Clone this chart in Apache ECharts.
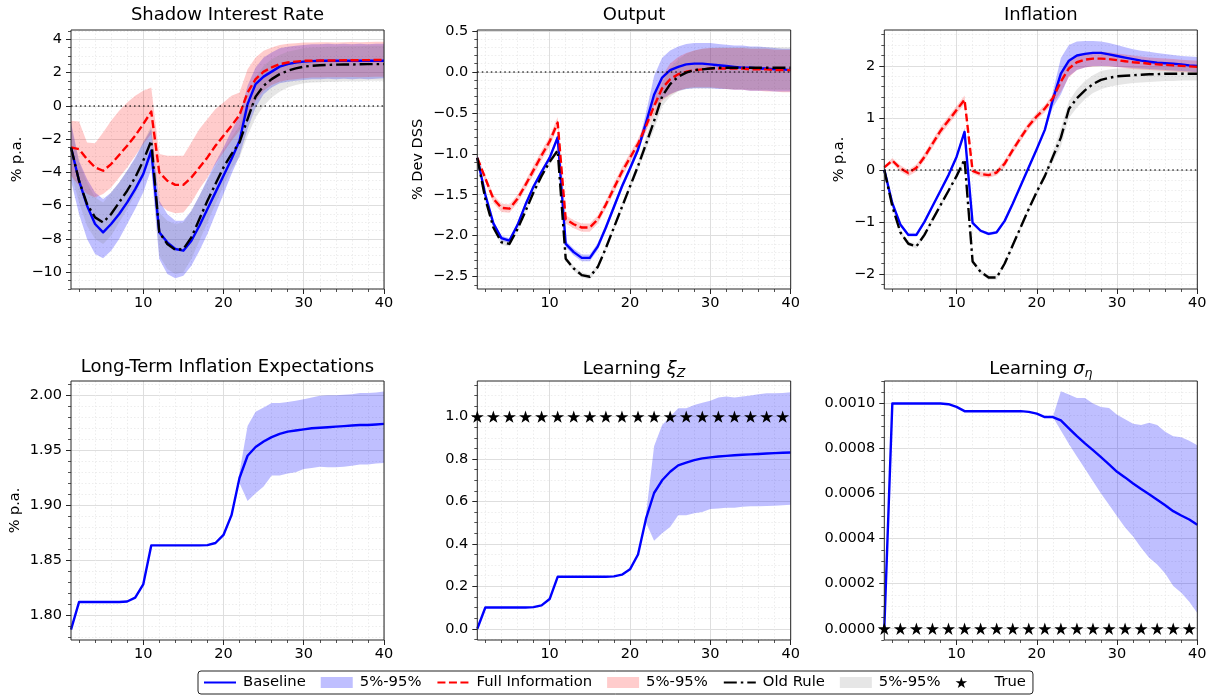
<!DOCTYPE html>
<html><head><meta charset="utf-8">
<script src="https://cdn.jsdelivr.net/npm/echarts@6/dist/echarts.min.js"></script>
<style>html,body{margin:0;padding:0;background:#fff}#c{width:1211px;height:698px}</style>
</head><body><div id="c"></div>
<script>
// ---------------- DATA ----------------
const periods = [1,2,3,4,5,6,7,8,9,10,11,12,13,14,15,16,17,18,19,20,21,22,23,24,25,26,27,28,29,30,31,32,33,34,35,36,37,38,39,40];
const xMajorTicks = [10,20,30,40];
const xMinorTicks = [2,4,6,8,12,14,16,18,22,24,26,28,32,34,36,38];

// Panel 1: Shadow Interest Rate
const rateBase = [-2.5,-4.5,-6.0,-7.1,-7.6,-7.1,-6.5,-5.8,-5.0,-4.1,-2.7,-7.6,-8.2,-8.6,-8.7,-8.1,-7.2,-6.2,-5.2,-4.2,-3.2,-2.1,0.1,1.3,1.75,2.05,2.35,2.5,2.6,2.65,2.68,2.7,2.7,2.7,2.7,2.7,2.7,2.7,2.7,2.7];
const rateBaseLo = [-4.5,-6.5,-8.0,-8.9,-9.15,-8.7,-8.0,-7.1,-6.2,-5.2,-3.8,-9.2,-10.1,-10.35,-10.2,-9.6,-8.7,-7.7,-6.5,-5.3,-4.1,-3.0,-1.4,-0.1,0.7,1.1,1.35,1.45,1.5,1.55,1.6,1.6,1.62,1.6,1.62,1.6,1.62,1.6,1.63,1.65];
const rateBaseHi = [-1.0,-3.3,-4.4,-5.2,-5.6,-5.2,-4.6,-3.9,-3.1,-2.2,-1.4,-5.7,-6.5,-6.9,-6.9,-6.3,-5.4,-4.4,-3.4,-2.5,-1.5,-0.6,1.2,2.3,2.9,3.2,3.45,3.55,3.6,3.65,3.7,3.7,3.72,3.7,3.72,3.7,3.72,3.7,3.72,3.72];
const rateFull = [-2.5,-2.6,-3.2,-3.7,-3.9,-3.5,-2.95,-2.4,-1.8,-1.1,-0.35,-4.0,-4.5,-4.75,-4.75,-4.3,-3.7,-3.1,-2.4,-1.8,-1.2,-0.55,0.8,1.6,2.05,2.3,2.5,2.6,2.65,2.7,2.7,2.72,2.72,2.72,2.73,2.73,2.74,2.74,2.75,2.75];
const rateFullLo = [-4.2,-4.8,-5.3,-5.5,-5.3,-4.9,-4.3,-3.7,-3.0,-2.3,-1.7,-5.9,-6.3,-6.45,-6.4,-5.8,-5.0,-4.3,-3.5,-2.8,-2.1,-1.5,-0.6,0.3,0.9,1.25,1.45,1.55,1.6,1.65,1.7,1.7,1.72,1.72,1.72,1.73,1.72,1.73,1.74,1.75];
const rateFullHi = [-0.9,-0.95,-2.2,-2.25,-1.6,-0.9,-0.3,0.2,0.6,0.9,1.1,-2.9,-3.0,-3.0,-3.0,-2.2,-1.4,-0.8,-0.2,0.2,0.6,0.8,2.2,2.9,3.3,3.5,3.65,3.72,3.75,3.8,3.8,3.82,3.82,3.8,3.82,3.83,3.82,3.83,3.85,3.85];
const rateOld = [-2.5,-4.5,-5.9,-6.7,-7.0,-6.5,-5.8,-5.1,-4.3,-3.3,-2.1,-7.6,-8.3,-8.65,-8.6,-7.9,-6.8,-5.7,-4.7,-3.7,-2.9,-2.2,-0.8,0.55,1.2,1.6,1.9,2.1,2.25,2.35,2.4,2.43,2.45,2.47,2.48,2.48,2.49,2.5,2.5,2.5];
const rateOldLo = [-4.0,-5.8,-7.2,-8.0,-8.3,-7.8,-7.0,-6.2,-5.3,-4.3,-3.0,-9.0,-9.8,-10.1,-10.0,-9.2,-8.1,-7.0,-5.9,-4.8,-3.8,-3.1,-1.8,-0.7,0.0,0.5,0.85,1.1,1.25,1.35,1.4,1.42,1.45,1.45,1.47,1.48,1.48,1.5,1.5,1.5];
const rateOldHi = [-1.2,-3.4,-4.6,-5.5,-5.8,-5.2,-4.6,-3.9,-3.2,-2.2,-1.2,-6.4,-6.9,-7.1,-7.0,-6.3,-5.4,-4.5,-3.6,-2.7,-1.9,-1.2,0.3,1.7,2.4,2.8,3.05,3.25,3.35,3.45,3.5,3.52,3.55,3.55,3.57,3.58,3.58,3.6,3.6,3.6];

// Panel 2: Output
const outBase = [-1.05,-1.5,-1.85,-2.03,-2.06,-1.87,-1.62,-1.4,-1.22,-1.05,-0.8,-2.1,-2.2,-2.27,-2.27,-2.13,-1.9,-1.65,-1.4,-1.18,-0.95,-0.62,-0.28,-0.07,0.02,0.06,0.09,0.1,0.1,0.09,0.08,0.07,0.06,0.05,0.05,0.04,0.04,0.03,0.03,0.02];
const outBaseLo = [-1.07,-1.53,-1.88,-2.06,-2.09,-1.9,-1.65,-1.43,-1.25,-1.08,-0.84,-2.14,-2.24,-2.31,-2.31,-2.17,-1.94,-1.69,-1.44,-1.22,-0.99,-0.7,-0.42,-0.33,-0.27,-0.23,-0.21,-0.2,-0.2,-0.2,-0.21,-0.21,-0.22,-0.22,-0.23,-0.23,-0.23,-0.24,-0.24,-0.24];
const outBaseHi = [-1.03,-1.47,-1.82,-2.0,-2.03,-1.84,-1.59,-1.37,-1.19,-1.02,-0.76,-2.06,-2.16,-2.23,-2.23,-2.09,-1.86,-1.61,-1.36,-1.14,-0.9,-0.5,-0.05,0.17,0.26,0.31,0.34,0.35,0.35,0.35,0.34,0.33,0.32,0.32,0.31,0.31,0.3,0.29,0.28,0.28];
const outFull = [-1.05,-1.3,-1.55,-1.66,-1.67,-1.55,-1.38,-1.2,-1.02,-0.85,-0.62,-1.8,-1.86,-1.9,-1.9,-1.8,-1.62,-1.42,-1.22,-1.05,-0.88,-0.66,-0.42,-0.2,-0.09,-0.03,0.0,0.02,0.03,0.04,0.04,0.04,0.04,0.04,0.03,0.03,0.03,0.02,0.02,0.02];
const outFullLo = [-1.08,-1.34,-1.6,-1.71,-1.72,-1.6,-1.43,-1.26,-1.08,-0.91,-0.68,-1.85,-1.91,-1.95,-1.95,-1.85,-1.67,-1.48,-1.28,-1.11,-0.94,-0.73,-0.52,-0.35,-0.28,-0.23,-0.2,-0.19,-0.19,-0.19,-0.2,-0.21,-0.22,-0.22,-0.23,-0.23,-0.24,-0.24,-0.25,-0.25];
const outFullHi = [-1.02,-1.26,-1.5,-1.61,-1.62,-1.5,-1.33,-1.14,-0.96,-0.79,-0.55,-1.75,-1.81,-1.85,-1.85,-1.75,-1.57,-1.36,-1.16,-0.99,-0.82,-0.59,-0.32,-0.05,0.1,0.18,0.23,0.26,0.28,0.29,0.29,0.29,0.29,0.29,0.28,0.28,0.28,0.27,0.27,0.27];
const outOld = [-1.05,-1.55,-1.9,-2.08,-2.1,-1.92,-1.7,-1.47,-1.27,-1.1,-0.96,-2.28,-2.4,-2.48,-2.5,-2.38,-2.15,-1.9,-1.65,-1.4,-1.15,-0.88,-0.6,-0.3,-0.15,-0.06,-0.01,0.02,0.03,0.04,0.05,0.05,0.05,0.05,0.05,0.05,0.05,0.05,0.05,0.05];
const outOldLo = [-1.08,-1.58,-1.93,-2.11,-2.13,-1.95,-1.73,-1.5,-1.3,-1.13,-0.99,-2.31,-2.43,-2.51,-2.53,-2.41,-2.18,-1.93,-1.68,-1.44,-1.2,-0.95,-0.7,-0.42,-0.3,-0.24,-0.21,-0.2,-0.2,-0.2,-0.2,-0.21,-0.21,-0.21,-0.22,-0.22,-0.22,-0.22,-0.22,-0.22];
const outOldHi = [-1.02,-1.52,-1.87,-2.05,-2.07,-1.89,-1.67,-1.44,-1.24,-1.07,-0.93,-2.25,-2.37,-2.45,-2.47,-2.35,-2.12,-1.87,-1.62,-1.36,-1.1,-0.8,-0.48,-0.15,0.05,0.15,0.22,0.26,0.28,0.29,0.3,0.3,0.3,0.3,0.3,0.3,0.3,0.3,0.3,0.3];

// Panel 3: Inflation
const inflBase = [0.0,-0.64,-1.05,-1.25,-1.25,-1.0,-0.7,-0.4,-0.1,0.25,0.73,-1.02,-1.17,-1.23,-1.2,-0.98,-0.65,-0.3,0.05,0.4,0.77,1.35,1.85,2.1,2.2,2.23,2.25,2.25,2.22,2.19,2.16,2.13,2.1,2.08,2.06,2.05,2.04,2.03,2.01,2.0];
const inflBaseLo = [-0.03,-0.67,-1.08,-1.28,-1.28,-1.03,-0.73,-0.43,-0.13,0.22,0.69,-1.05,-1.2,-1.26,-1.23,-1.01,-0.68,-0.33,0.02,0.37,0.73,1.2,1.45,1.8,1.92,1.97,2.0,2.0,2.0,1.98,1.97,1.96,1.95,1.94,1.93,1.92,1.91,1.9,1.89,1.88];
const inflBaseHi = [0.03,-0.61,-1.02,-1.22,-1.22,-0.97,-0.67,-0.37,-0.07,0.28,0.81,-0.99,-1.14,-1.2,-1.17,-0.95,-0.62,-0.27,0.08,0.43,0.81,1.5,2.15,2.4,2.47,2.48,2.48,2.47,2.44,2.4,2.36,2.32,2.29,2.27,2.25,2.23,2.21,2.19,2.18,2.17];
const inflFull = [0.05,0.18,0.03,-0.06,0.04,0.25,0.5,0.75,0.95,1.15,1.35,-0.02,-0.08,-0.1,-0.05,0.12,0.38,0.62,0.85,1.03,1.18,1.38,1.7,1.95,2.07,2.12,2.14,2.14,2.13,2.11,2.09,2.07,2.06,2.04,2.03,2.02,2.01,2.0,1.99,1.98];
const inflFullLo = [0.02,0.13,-0.03,-0.12,-0.03,0.18,0.42,0.67,0.87,1.07,1.27,-0.07,-0.13,-0.15,-0.11,0.05,0.31,0.55,0.78,0.96,1.11,1.28,1.5,1.78,1.92,1.97,1.99,2.0,1.99,1.98,1.96,1.94,1.93,1.92,1.91,1.9,1.89,1.88,1.88,1.87];
const inflFullHi = [0.08,0.23,0.09,0.0,0.11,0.32,0.58,0.83,1.03,1.23,1.43,0.03,-0.03,-0.05,0.01,0.19,0.45,0.69,0.92,1.1,1.25,1.45,1.82,2.1,2.2,2.25,2.27,2.27,2.26,2.24,2.22,2.2,2.18,2.16,2.15,2.14,2.13,2.12,2.11,2.1];
const inflOld = [0.0,-0.7,-1.2,-1.42,-1.47,-1.25,-0.96,-0.68,-0.4,-0.12,0.2,-1.76,-1.96,-2.07,-2.07,-1.8,-1.45,-1.1,-0.75,-0.42,-0.12,0.25,0.62,1.17,1.38,1.53,1.65,1.73,1.77,1.8,1.81,1.82,1.83,1.84,1.84,1.85,1.85,1.85,1.85,1.85];
const inflOldLo = [-0.03,-0.74,-1.24,-1.46,-1.51,-1.29,-1.0,-0.72,-0.44,-0.16,0.16,-1.8,-2.0,-2.11,-2.11,-1.84,-1.49,-1.14,-0.79,-0.47,-0.18,0.15,0.45,1.0,1.2,1.36,1.48,1.55,1.6,1.63,1.65,1.67,1.68,1.69,1.7,1.71,1.71,1.72,1.72,1.72];
const inflOldHi = [0.03,-0.66,-1.16,-1.38,-1.43,-1.21,-0.92,-0.64,-0.36,-0.08,0.24,-1.72,-1.92,-2.03,-2.03,-1.76,-1.41,-1.06,-0.71,-0.37,-0.06,0.35,0.8,1.32,1.55,1.71,1.82,1.9,1.93,1.95,1.96,1.97,1.98,1.98,1.99,1.99,1.99,1.99,1.99,1.99];

// Panel 4: Long-Term Inflation Expectations
const lteBase = [1.787,1.812,1.812,1.812,1.812,1.812,1.812,1.8125,1.816,1.828,1.8635,1.8635,1.8635,1.8635,1.8635,1.8635,1.8635,1.8638,1.8657,1.873,1.891,1.925,1.945,1.953,1.958,1.962,1.965,1.967,1.968,1.969,1.970,1.9705,1.971,1.9715,1.972,1.9725,1.973,1.973,1.9735,1.974];
const lteLo = [null,null,null,null,null,null,null,null,null,null,null,null,null,null,null,null,null,null,null,null,null,1.92,1.904,1.911,1.917,1.927,1.927,1.929,1.930,1.933,1.934,1.935,1.9345,1.9345,1.935,1.936,1.937,1.937,1.938,1.9385];
const lteHi = [null,null,null,null,null,null,null,null,null,null,null,null,null,null,null,null,null,null,null,null,null,1.93,1.972,1.985,1.989,1.993,1.993,1.994,1.995,1.9965,1.998,1.9995,2.0,2.0,2.0005,2.001,2.002,2.002,2.0025,2.0035];

// Panel 5: Learning xi_Z
const xiBase = [0.0,0.1,0.1,0.1,0.1,0.1,0.1,0.102,0.11,0.14,0.245,0.245,0.245,0.245,0.245,0.245,0.245,0.247,0.255,0.28,0.35,0.52,0.64,0.7,0.74,0.77,0.783,0.795,0.803,0.808,0.812,0.815,0.818,0.82,0.822,0.824,0.826,0.828,0.83,0.831];
const xiLo = [null,null,null,null,null,null,null,null,null,null,null,null,null,null,null,null,null,null,null,null,null,0.5,0.415,0.45,0.48,0.535,0.535,0.545,0.55,0.565,0.567,0.57,0.57,0.575,0.577,0.578,0.579,0.58,0.582,0.585];
const xiHi = [null,null,null,null,null,null,null,null,null,null,null,null,null,null,null,null,null,null,null,null,null,0.54,0.86,0.96,1.0,1.04,1.04,1.055,1.065,1.075,1.09,1.095,1.09,1.095,1.1,1.105,1.11,1.11,1.112,1.115];

// Panel 6: Learning sigma_eta
const sigBase = [0,0.001,0.001,0.001,0.001,0.001,0.001,0.001,0.000997,0.000985,0.000966,0.000966,0.000966,0.000966,0.000966,0.000966,0.000966,0.000966,0.000963,0.000955,0.00094,0.00094,0.000925,0.00089,0.000855,0.000823,0.000793,0.000762,0.00073,0.000697,0.000672,0.000645,0.00062,0.000597,0.000573,0.000548,0.000522,0.000503,0.000485,0.000462];
const sigLo = [null,null,null,null,null,null,null,null,null,null,null,null,null,null,null,null,null,null,null,null,null,0.00094,0.00088,0.00082,0.000765,0.00071,0.000655,0.0006,0.00055,0.0005,0.00045,0.00041,0.00036,0.000315,0.000285,0.000245,0.00019,0.00016,0.00012,0.00007];
const sigHi = [null,null,null,null,null,null,null,null,null,null,null,null,null,null,null,null,null,null,null,null,null,0.00094,0.001055,0.00104,0.001025,0.001025,0.001,0.000985,0.00098,0.00095,0.00093,0.00091,0.000905,0.000915,0.000905,0.000875,0.000855,0.00085,0.000835,0.000815];

// True values (stars)
const trueX = [1,3,5,7,9,11,13,15,17,19,21,23,25,27,29,31,33,35,37,39];
const trueXi = [1,1,1,1,1,1,1,1,1,1,1,1,1,1,1,1,1,1,1,1];
const trueSigma = [0,0,0,0,0,0,0,0,0,0,0,0,0,0,0,0,0,0,0,0];

// Y tick labels
const yTicks1 = [-10,-8,-6,-4,-2,0,2,4];
const yTicks2 = [-2.5,-2.0,-1.5,-1.0,-0.5,0.0,0.5];
const yTicks3 = [-2,-1,0,1,2];
const yTicks4 = [1.80,1.85,1.90,1.95,2.00];
const yTicks5 = [0,0.2,0.4,0.6,0.8,1.0];
const yTicks6 = [0,0.0002,0.0004,0.0006,0.0008,0.001];

// ---------------- STYLE / BUILD ----------------
const FONT = 'DejaVu Sans';
const BLUE = '#0000ff', RED = '#ff0000', BLACK = '#000000';
const BLUE_BAND = 'rgba(0,0,255,0.25)', RED_BAND = 'rgba(255,0,0,0.2)', GREY_BAND = 'rgba(128,128,128,0.2)';
const DASH = [8, 3.5], DASHDOT = [13, 4, 2.5, 4];
const STAR = 'path://M0,-1L0.2245,-0.309L0.951,-0.309L0.363,0.118L0.588,0.809L0,0.382L-0.588,0.809L-0.363,0.118L-0.951,-0.309L-0.2245,-0.309Z';
const STAR_HANDLE = 'path://M1,0L1.2245,0.691L1.951,0.691L1.363,1.118L1.588,1.809L1,1.382L0.412,1.809L0.637,1.118L0.049,0.691L0.7755,0.691ZM5.3,0.9L5.3,0.9001';

function minorTicks(min, max, step, majors) {
  const out = [];
  const k0 = Math.ceil(min / step - 1e-9), k1 = Math.floor(max / step + 1e-9);
  for (let k = k0; k <= k1; k++) {
    const v = +(k * step).toPrecision(12);
    if (!majors.some(m => Math.abs(m - v) < step * 1e-3)) out.push(v);
  }
  return out;
}
const fmt = d => v => v.toFixed(d).replace('-', '\u2212');

const rowTop = [30, 381], H = 259;
const cols = [[71, 313], [477.3, 313.4], [884.3, 313]];

const panels = [
  {title: 'Shadow Interest Rate', r: 0, c: 0, min: -11, max: 4.55, ticks: yTicks1, minor: 0.5, dec: 0, name: '% p.a.', nameX: 17},
  {title: 'Output', r: 0, c: 1, min: -2.65, max: 0.51, ticks: yTicks2, minor: 0.1, dec: 1, name: '% Dev DSS', nameX: 418},
  {title: 'Inflation', r: 0, c: 2, min: -2.29, max: 2.69, ticks: yTicks3, minor: 0.2, dec: 0, name: '% p.a.', nameX: 839},
  {title: 'Long-Term Inflation Expectations', r: 1, c: 0, min: 1.7775, max: 2.013, ticks: yTicks4, minor: 0.01, dec: 2, name: '% p.a.', nameX: 15},
  {title: '{n|Learning }{g|\u03BE}{s|Z}', r: 1, c: 1, min: -0.053, max: 1.168, ticks: yTicks5, minor: 0.05, dec: 1, name: ''},
  {title: '{n|Learning }{g|\u03C3}{s|\u03B7}', r: 1, c: 2, min: -0.00005, max: 0.0011, ticks: yTicks6, minor: 0.00005, dec: 4, name: ''}
];

const grids = [], xAxes = [], yAxes = [], titles = [], graphics = [];
const TICKC = '#262626';
panels.forEach((p, i) => {
  const left = cols[p.c][0], width = cols[p.c][1], top = rowTop[p.r];
  grids.push({left, top, width, height: H, show: true, borderColor: '#262626', borderWidth: 1,
    backgroundColor: 'transparent', z: 5, containLabel: false, outerBoundsMode: 'none'});
  xAxes.push({
    gridIndex: i, type: 'value', min: 1, max: 40, position: 'bottom',
    axisLine: {show: false, onZero: false},
    axisTick: {show: true, customValues: xMajorTicks, length: 5, lineStyle: {color: TICKC, width: 1}},
    axisLabel: {customValues: xMajorTicks, fontSize: 14.5, fontFamily: FONT, color: '#000', margin: 7},
    splitLine: {show: true, lineStyle: {color: '#dedede', width: 1}}
  }, {
    gridIndex: i, type: 'value', min: 1, max: 40, position: 'bottom',
    axisLine: {show: false, onZero: false},
    axisTick: {show: true, customValues: xMinorTicks, length: 3, lineStyle: {color: TICKC, width: 0.8}},
    axisLabel: {show: false},
    splitLine: {show: true, lineStyle: {color: '#e9e9e9', width: 0.8, type: [1.5, 2]}}
  });
  yAxes.push({
    gridIndex: i, type: 'value', min: p.min, max: p.max, position: 'left',
    axisLine: {show: false, onZero: false},
    axisTick: {show: true, customValues: p.ticks, length: 5, lineStyle: {color: TICKC, width: 1}},
    axisLabel: {customValues: p.ticks, fontSize: 14.5, fontFamily: FONT, color: '#000', margin: 9, formatter: fmt(p.dec)},
    splitLine: {show: true, lineStyle: {color: '#dedede', width: 1}}
  }, {
    gridIndex: i, type: 'value', min: p.min, max: p.max, position: 'left',
    axisLine: {show: false, onZero: false},
    axisTick: {show: true, customValues: minorTicks(p.min, p.max, p.minor, p.ticks), length: 3, lineStyle: {color: TICKC, width: 0.8}},
    axisLabel: {show: false},
    splitLine: {show: true, lineStyle: {color: '#e9e9e9', width: 0.8, type: [1.5, 2]}}
  });
  if (p.name) {
    graphics.push({type: 'text', x: p.nameX, y: top + H / 2, rotation: Math.PI / 2, silent: true,
      style: {text: p.name, fill: '#000', font: '14.5px "DejaVu Sans"', align: 'center', verticalAlign: 'middle'}});
  }
  titles.push({
    text: p.title, left: left + width / 2, top: p.r === 0 ? 6 : 358, textAlign: 'center', padding: 0,
    textStyle: {fontSize: 18, fontWeight: 'normal', fontFamily: FONT, color: '#000',
      rich: {
        n: {fontSize: 18, fontFamily: FONT, color: '#000'},
        g: {fontSize: 18, fontFamily: FONT, fontStyle: 'italic', color: '#000'},
        s: {fontSize: 12.5, fontFamily: FONT, fontStyle: 'italic', color: '#000', padding: [9, 0, 0, 0]}
      }}
  });
});

function lineSeries(name, i, vals, color, dash, z, zeroLine) {
  const s = {
    type: 'line', name, xAxisIndex: 2 * i, yAxisIndex: 2 * i,
    data: periods.map((x, k) => [x, vals[k]]),
    symbol: 'none', showSymbol: false, clip: true, z,
    lineStyle: {color, width: 2.4, type: dash, join: 'round'}, itemStyle: {color},
    emphasis: {disabled: true}, animation: false
  };
  if (zeroLine) {
    s.markLine = {silent: true, symbol: 'none', label: {show: false}, animation: false,
      lineStyle: {color: 'rgba(0,0,0,0.75)', width: 1.5, type: [1.5, 3]}, data: [{yAxis: 0}]};
  }
  return s;
}
function bandSeries(name, i, lo, hi, color) {
  return {
    type: 'custom', name, xAxisIndex: 2 * i, yAxisIndex: 2 * i, data: [[periods[0], 0]],
    clip: true, silent: true, z: 2, animation: false, itemStyle: {color},
    renderItem: (params, api) => {
      const up = [], dn = [];
      for (let k = 0; k < periods.length; k++) {
        if (lo[k] == null || hi[k] == null) continue;
        up.push(api.coord([periods[k], hi[k]]));
        dn.push(api.coord([periods[k], lo[k]]));
      }
      return {type: 'polygon', shape: {points: up.concat(dn.reverse())}, style: {fill: color}};
    }
  };
}
function starSeries(i, xs, ys) {
  return {type: 'scatter', name: 'True', xAxisIndex: 2 * i, yAxisIndex: 2 * i,
    data: xs.map((x, k) => [x, ys[k]]), symbol: STAR, symbolSize: 13, symbolKeepAspect: true,
    itemStyle: {color: '#000', borderWidth: 0, opacity: 1}, z: 6, clip: false, emphasis: {disabled: true}, animation: false};
}

const threeWay = [
  [rateBase, rateBaseLo, rateBaseHi, rateFull, rateFullLo, rateFullHi, rateOld, rateOldLo, rateOldHi],
  [outBase, outBaseLo, outBaseHi, outFull, outFullLo, outFullHi, outOld, outOldLo, outOldHi],
  [inflBase, inflBaseLo, inflBaseHi, inflFull, inflFullLo, inflFullHi, inflOld, inflOldLo, inflOldHi]
];
const series = [];
threeWay.forEach((d, i) => {
  series.push(bandSeries('Baseline band', i, d[1], d[2], BLUE_BAND));
  series.push(bandSeries('Full band', i, d[4], d[5], RED_BAND));
  series.push(bandSeries('Old band', i, d[7], d[8], GREY_BAND));
  series.push(lineSeries('Baseline', i, d[0], BLUE, 'solid', 3, true));
  series.push(lineSeries('Full Information', i, d[3], RED, DASH, 4, false));
  series.push(lineSeries('Old Rule', i, d[6], BLACK, DASHDOT, 4, false));
});
series.push(bandSeries('Baseline band', 3, lteLo, lteHi, BLUE_BAND));
series.push(lineSeries('Baseline', 3, lteBase, BLUE, 'solid', 3, false));
series.push(bandSeries('Baseline band', 4, xiLo, xiHi, BLUE_BAND));
series.push(lineSeries('Baseline', 4, xiBase, BLUE, 'solid', 3, false));
series.push(starSeries(4, trueX, trueXi));
series.push(bandSeries('Baseline band', 5, sigLo, sigHi, BLUE_BAND));
series.push(lineSeries('Baseline', 5, sigBase, BLUE, 'solid', 3, false));
series.push(starSeries(5, trueX, trueSigma));

const bandNames = ['Baseline band', 'Full band', 'Old band'];
const hideSym = {opacity: 0};
const option = {
  animation: false,
  backgroundColor: '#ffffff',
  textStyle: {fontFamily: FONT},
  title: titles,
  grid: grids,
  xAxis: xAxes,
  yAxis: yAxes,
  graphic: graphics,
  legend: {
    left: 198, top: 671, itemWidth: 32, itemHeight: 11, itemGap: 15,
    padding: [4, 7, 4, 5], borderColor: '#222', borderWidth: 1, borderRadius: 3,
    backgroundColor: '#fff', selectedMode: false,
    textStyle: {fontFamily: FONT, fontSize: 14.8, color: '#000', padding: [0, 0, 0, 2]},
    formatter: n => bandNames.includes(n) ? '5%-95%' : n,
    data: [
      {name: 'Baseline', itemStyle: hideSym},
      {name: 'Baseline band', icon: 'rect'},
      {name: 'Full Information', itemStyle: hideSym},
      {name: 'Full band', icon: 'rect'},
      {name: 'Old Rule', itemStyle: hideSym},
      {name: 'Old band', icon: 'rect'},
      {name: 'True', icon: STAR_HANDLE, itemStyle: {color: '#000'}}
    ]
  },
  series
};
const chart = echarts.init(document.getElementById('c'), null, {renderer: 'canvas'});
chart.setOption(option);
</script></body></html>
